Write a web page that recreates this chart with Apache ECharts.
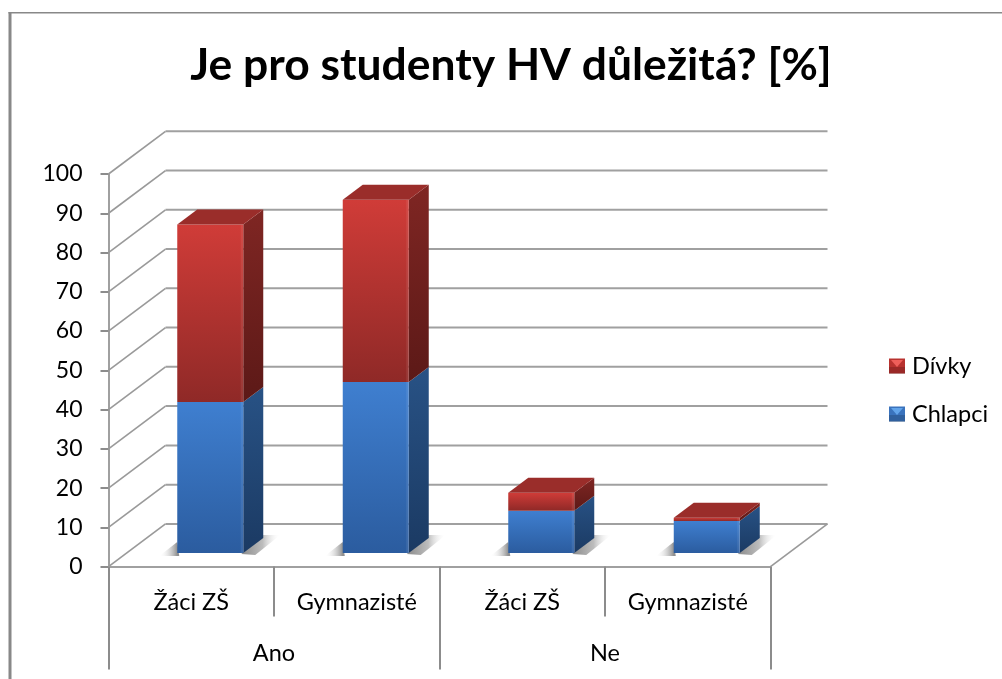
<!DOCTYPE html>
<html>
<head>
<meta charset="utf-8">
<style>html,body{margin:0;padding:0;background:#fff}#c{width:1002px;height:679px}</style>
<script src="https://cdn.jsdelivr.net/npm/echarts@6/dist/echarts.min.js"></script>
</head>
<body>
<div id="c"></div>
<script>
const titleText = 'Je pro studenty HV důležitá? [%]';
const groups = ['Ano', 'Ne'];
const categories = ['Žáci ZŠ', 'Gymnazisté', 'Žáci ZŠ', 'Gymnazisté'];
const chlapci = [38.5, 43.6, 10.8, 8.2];
const divky = [45.2, 46.4, 4.6, 0.8];
const yTicks = [0, 10, 20, 30, 40, 50, 60, 70, 80, 90, 100];

const FONT = 'Lato';
const WALL_DX = 57, WALL_DY = -42.7;
const BAR_DX = 19, BAR_DY = -13.5, BAR_W = 66, SIDE_DX = 20, SIDE_DY = -15;

const grad = (a, b) => new echarts.graphic.LinearGradient(0, 0, 0, 1, [{offset: 0, color: a}, {offset: 1, color: b}]);
const shadowRight = () => new echarts.graphic.LinearGradient(0, 0, 1, 0, [{offset: 0, color: '#8a8a8a'}, {offset: 0.55, color: '#bdbdbd'}, {offset: 1, color: 'rgba(255,255,255,0)'}]);
const shadowLeft = () => new echarts.graphic.LinearGradient(0, 0, 1, 0, [{offset: 0, color: 'rgba(255,255,255,0)'}, {offset: 0.9, color: '#8f8f8f'}, {offset: 1, color: '#8f8f8f'}]);

function barRenderer(c, withShadow, withTop) {
  return function (params, api) {
    const i = api.value(0);
    const lo = api.coord([i, api.value(1)]);
    const hi = api.coord([i, api.value(2)]);
    const xl = lo[0] - BAR_W / 2 + BAR_DX, xr = xl + BAR_W;
    const yb = lo[1] + BAR_DY, yt = hi[1] + BAR_DY;
    const kids = [];
    if (withShadow) {
      kids.push({type: 'polygon', shape: {points: [[xr - 2, yb + 1], [xr + SIDE_DX, yb + SIDE_DY - 3], [xr + SIDE_DX + 17, yb + SIDE_DY - 3], [xr + 12, yb + 2]]},
        style: {fill: shadowRight()}});
      kids.push({type: 'polygon', shape: {points: [[xl - 18, yb + 3], [xl, yb - 11], [xl + 2, yb + 3]]},
        style: {fill: shadowLeft()}});
    }
    kids.push({type: 'polygon', shape: {points: [[xr, yb], [xr + SIDE_DX, yb + SIDE_DY], [xr + SIDE_DX, yt + SIDE_DY], [xr, yt]]},
      style: {fill: grad(c.sideTop, c.sideBottom)}});
    kids.push({type: 'rect', shape: {x: xl, y: yt, width: BAR_W, height: yb - yt},
      style: {fill: grad(c.faceTop, c.faceBottom)}});
    kids.push({type: 'rect', shape: {x: xr - 2.5, y: yt, width: 2.5, height: yb - yt},
      style: {fill: 'rgba(255,255,255,0.08)'}});
    if (withTop) {
      kids.push({type: 'polygon', shape: {points: [[xl, yt], [xl + SIDE_DX, yt + SIDE_DY], [xr + SIDE_DX, yt + SIDE_DY], [xr, yt]]},
        style: {fill: c.top}});
    }
    return {type: 'group', children: kids};
  };
}

const blue = {faceTop: '#3f7fd0', faceBottom: '#2b5c9f', sideTop: '#285285', sideBottom: '#1b3a63', top: '#2f5f9c'};
const red = {faceTop: '#d03c38', faceBottom: '#8f2927', sideTop: '#7f2623', sideBottom: '#5c1917', top: '#9a2d2a'};

const legendIcon = (y, hi) => [
  {type: 'polygon', silent: true, z: 200, shape: {points: [[891, y + 1], [903, y + 1], [897, y + 8]]}, style: {fill: hi}},
  {type: 'rect', silent: true, z: 200, shape: {x: 889, y: y + 8, width: 16, height: 7}, style: {fill: 'rgba(0,0,0,0.16)'}}
];

const chart = echarts.init(document.getElementById('c'), null, {renderer: 'canvas'});
chart.setOption({
  animation: false,
  backgroundColor: '#fff',
  title: {
    text: titleText, left: 506, top: 39, textAlign: 'center',
    textStyle: {fontFamily: FONT, fontWeight: 'bold', fontSize: 44.4, color: '#000'}
  },
  legend: {
    orient: 'vertical', left: 884, top: 349, itemWidth: 16, itemHeight: 15, itemGap: 24,
    selectedMode: false,
    textStyle: {fontFamily: FONT, fontSize: 23.5, color: '#000', padding: [0, 0, 0, 2]},
    data: [{name: 'Dívky', icon: 'rect'}, {name: 'Chlapci', icon: 'rect'}]
  },
  grid: {left: 108.5, top: 174, width: 662, height: 392.6, containLabel: false},
  xAxis: [
    {
      type: 'category', data: categories, position: 'bottom',
      axisLine: {show: true, lineStyle: {color: '#a0a0a0', width: 2}},
      axisTick: {show: true, length: 50, lineStyle: {color: '#8c8c8c', width: 2}},
      axisLabel: {interval: 0, margin: 36, verticalAlign: 'middle', fontFamily: FONT, fontSize: 23.5, color: '#000'},
      splitLine: {show: false}
    },
    {
      type: 'category', data: groups, position: 'bottom',
      axisLine: {show: false},
      axisTick: {show: true, length: 103, lineStyle: {color: '#8c8c8c', width: 2}},
      axisLabel: {interval: 0, margin: 87, verticalAlign: 'middle', fontFamily: FONT, fontSize: 23.5, color: '#000'},
      splitLine: {show: false}
    }
  ],
  yAxis: {
    type: 'value', min: 0, max: 100, interval: 10,
    axisLine: {show: true, lineStyle: {color: '#a0a0a0', width: 2}},
    axisTick: {show: true, length: 8, lineStyle: {color: '#8c8c8c', width: 2}},
    axisLabel: {margin: 26, fontFamily: FONT, fontSize: 23, color: '#000'},
    splitLine: {show: false}
  },
  series: [
    {
      name: 'grid', type: 'custom', z: 1, silent: true, legendHoverLink: false,
      data: yTicks.map(v => [v]),
      encode: {y: 0},
      renderItem(params, api) {
        const v = api.value(0);
        const p = api.coord([0, v]);
        const x0 = params.coordSys.x, x1 = x0 + params.coordSys.width;
        const y = p[1];
        const kids = [
          {type: 'line', shape: {x1: x0, y1: y, x2: x0 + WALL_DX, y2: y + WALL_DY}, style: {stroke: '#999', lineWidth: 1.6}},
          {type: 'line', shape: {x1: x0 + WALL_DX, y1: y + WALL_DY, x2: x1 + WALL_DX, y2: y + WALL_DY}, style: {stroke: '#a0a0a0', lineWidth: 2}}
        ];
        if (v === 0) {
          kids.push({type: 'line', shape: {x1: x1, y1: y, x2: x1 + WALL_DX, y2: y + WALL_DY}, style: {stroke: '#999', lineWidth: 1.6}});
        }
        return {type: 'group', children: kids};
      }
    },
    {
      name: 'Chlapci', type: 'custom', z: 2, itemStyle: {color: '#3a73bd'},
      data: chlapci.map((v, i) => [i, 0, v]),
      encode: {x: 0, y: [1, 2]},
      renderItem: barRenderer(blue, true, false)
    },
    {
      name: 'Dívky', type: 'custom', z: 3, itemStyle: {color: '#b8322f'},
      data: divky.map((v, i) => [i, chlapci[i], chlapci[i] + v]),
      encode: {x: 0, y: [1, 2]},
      renderItem: barRenderer(red, false, true)
    }
  ],
  graphic: [
    {type: 'rect', silent: true, shape: {x: 8.5, y: 12, width: 3, height: 667}, style: {fill: '#888'}},
    {type: 'rect', silent: true, shape: {x: 8.5, y: 12, width: 993.5, height: 1.4}, style: {fill: '#888'}},
    ...legendIcon(359, '#ee5f5a'),
    ...legendIcon(407, '#62a4ea')
  ]
});
</script>
</body>
</html>
